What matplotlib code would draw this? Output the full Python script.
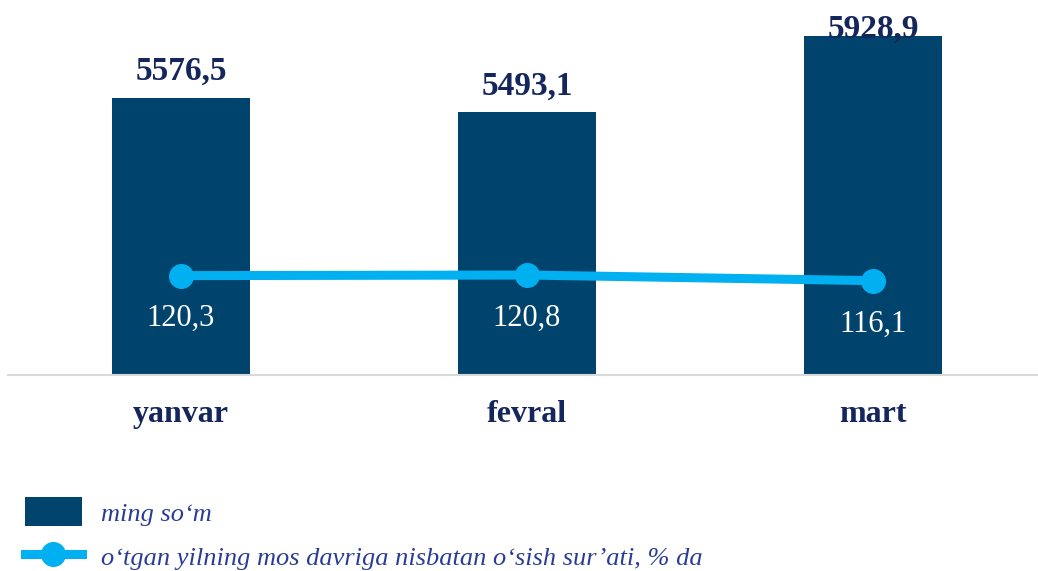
import numpy as np
import matplotlib.pyplot as plt
from matplotlib.patches import Patch
from matplotlib.lines import Line2D

months = ["yanvar", "fevral", "mart"]
wage = [5576.5, 5493.1, 5928.9]
growth = [120.3, 120.8, 116.1]
wage_labels = ["5576,5", "5493,1", "5928,9"]
growth_labels = ["120,3", "120,8", "116,1"]

bar_color = "#00446E"
line_color = "#00B0F0"
navy = "#14265C"
legend_color = "#2A3D96"
serif = ["Liberation Serif", "DejaVu Serif"]

fig = plt.figure(figsize=(10.38, 5.71), dpi=100)
ax = fig.add_axes([0.0077, 0.3433, 1.0, 0.6567])
x = np.arange(len(months))

ax.bar(x, wage, width=0.4, color=bar_color, zorder=2)
ymax = 6131
ax.set_ylim(4000, ymax)
ax.set_xlim(-0.5, 2.5)
# labels above bars; the tallest one is pushed down to stay inside the chart
for xi, v, lab in zip(x, wage, wage_labels):
    ax.text(xi, min(v + 100, ymax - 216), lab, ha="center", va="baseline", fontsize=24,
            fontweight="bold", color=navy, family=serif, zorder=4)

ax.set_xticks(x)
ax.set_xticklabels(months, fontsize=23, fontweight="bold", color=navy, family=serif)
ax.tick_params(axis="x", length=0, pad=18)
ax.set_yticks([])
for s in ["top", "left", "right"]:
    ax.spines[s].set_visible(False)
ax.spines["bottom"].set_color("#D9D9D9")
ax.spines["bottom"].set_linewidth(1.5)

ax2 = ax.twinx()
ax2.plot(x, growth, color=line_color, linewidth=6.5, marker="o", markersize=17, zorder=3)
ax2.set_ylim(37.5, 350)
ax2.set_yticks([])
for s in ["top", "left", "right", "bottom"]:
    ax2.spines[s].set_visible(False)
for xi, v, lab in zip(x, growth, growth_labels):
    ax2.text(xi, v - 36, lab, ha="center", va="center", fontsize=22,
             color="white", family=serif)

handles = [
    Patch(facecolor=bar_color, label="ming so\u2018m"),
    Line2D([0], [0], color=line_color, linewidth=6.5, marker="o", markersize=17,
           label="o\u2018tgan yilning mos davriga nisbatan o\u2018sish sur\u2019ati, % da"),
]
fig.legend(handles=handles, loc="lower left", bbox_to_anchor=(0.001, -0.041),
           frameon=False, prop={"family": serif, "style": "italic", "size": 19},
           labelcolor=legend_color, handlelength=2.15, handleheight=1.3,
           labelspacing=0.6, handletextpad=0.75)

fig.savefig("out.png", dpi=100)
